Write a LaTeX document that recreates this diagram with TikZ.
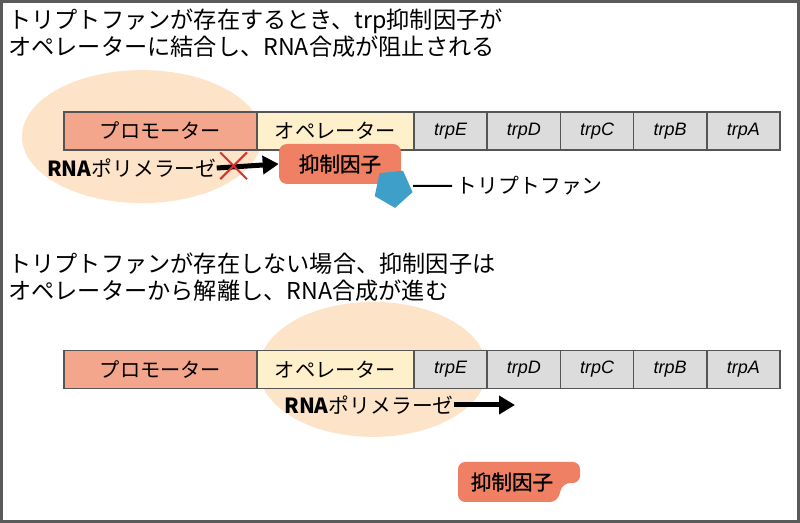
\documentclass[tikz,border=0pt]{standalone}
\usepackage{fontspec}
\setmainfont{Noto Sans CJK JP}
\newfontfamily\genefont{Liberation Sans}
\newfontfamily\repfont[FakeBold=1.2]{Noto Sans CJK JP}
\usetikzlibrary{positioning,shapes.geometric,shapes.misc,arrows.meta}

\definecolor{promocol}{HTML}{F4A68C}
\definecolor{opcol}{HTML}{FFF0CC}
\definecolor{genecol}{HTML}{DCDCDC}
\definecolor{edgecol}{HTML}{555555}
\definecolor{blobcol}{HTML}{FDE3C8}
\definecolor{repcol}{HTML}{F08064}
\definecolor{trpcol}{HTML}{3E9FC8}
\definecolor{stopcol}{HTML}{D8302C}
\definecolor{framecol}{HTML}{5A5A5A}

\tikzset{
  title/.style={align=left, inner sep=0pt, anchor=west, font=\fontsize{16.5pt}{19.2pt}\selectfont},
  seg/.style={draw=edgecol, line width=0.04cm, minimum height=0.95cm, inner sep=0pt, outer sep=0pt,
    font=\fontsize{14.4pt}{16pt}\selectfont},
  promo/.style={seg, fill=promocol, minimum width=4.825cm},
  oper/.style={seg, fill=opcol, minimum width=3.925cm},
  gene/.style={seg, fill=genecol, minimum width=1.83cm, font=\genefont\itshape\fontsize{12.8pt}{14pt}\selectfont},
  blob/.style={ellipse, fill=blobcol, inner sep=0pt},
  label/.style={font=\fontsize{14.8pt}{16pt}\selectfont},
  repbox/.style={fill=repcol, rounded corners=0.2cm, minimum width=3.05cm, minimum height=1cm,
    font=\repfont\fontsize{14.6pt}{16pt}\selectfont},
  rnaarrow/.style={line width=0.125cm, -{Triangle[length=0.4cm,width=0.45cm]}}
}

\begin{document}
\begin{tikzpicture}
  \useasboundingbox (0,0) rectangle (20,13.075);
  \draw[framecol, line width=0.075cm] (0.0375,0.0375) rectangle (19.9625,13.0375);

  % Tryptophan present: repressor sits on the operator
  \node[title] (head1) at (0.2,12.2375) {トリプトファンが存在するとき、trp抑制因子が\\オペレーターに結合し、RNA合成が阻止される};

  \node[blob, minimum width=6cm, minimum height=3.325cm] (pol1) at (3.55,9.66) {};

  \node[promo, anchor=west] (pro1) at (1.6,9.8) {プロモーター};
  \node[oper, right=0pt of pro1] (op1) {オペレーター};
  \node[gene, right=0pt of op1] (trpE1) {trpE};
  \node[gene, right=0pt of trpE1] (trpD1) {trpD};
  \node[gene, right=0pt of trpD1] (trpC1) {trpC};
  \node[gene, right=0pt of trpC1] (trpB1) {trpB};
  \node[gene, right=0pt of trpB1] (trpA1) {trpA};

  \node[repbox] (rep1) at (8.5,8.975) {抑制因子};
  \node[regular polygon, regular polygon sides=5, shape border rotate=186, fill=trpcol,
    minimum size=1cm, inner sep=0pt] (trp1) at (9.825,8.375) {};
  \node[label, anchor=west] (trplab) at (11.3,8.425) {トリプトファン};
  \path (trp1.center) ++(0.5,0.05) coordinate (trpedge);
  \draw[line width=0.05cm] (trpedge) -- (trplab.west);

  \node[label, anchor=west, inner sep=0pt] (rna1) at (1.17,8.875) {\textbf{RNA}ポリメラーゼ};
  \draw[rnaarrow] (rna1.east) -- (rep1.west);
  \node[cross out, draw=stopcol, line width=0.05cm, minimum size=0.62cm, inner sep=0pt] (stop) at (5.84,8.93) {};

  % Tryptophan absent: repressor leaves, polymerase moves on
  \node[title] (head2) at (0.2,6.1375) {トリプトファンが存在しない場合、抑制因子は\\オペレーターから解離し、RNA合成が進む};

  \node[blob, minimum width=5.7cm, minimum height=3.375cm] (pol2) at (9.325,3.84) {};

  \node[promo, anchor=west] (pro2) at (1.6,3.84) {プロモーター};
  \node[oper, right=0pt of pro2] (op2) {オペレーター};
  \node[gene, right=0pt of op2] (trpE2) {trpE};
  \node[gene, right=0pt of trpE2] (trpD2) {trpD};
  \node[gene, right=0pt of trpD2] (trpC2) {trpC};
  \node[gene, right=0pt of trpC2] (trpB2) {trpB};
  \node[gene, right=0pt of trpB2] (trpA2) {trpA};

  \node[label, anchor=west, inner sep=0pt] (rna2) at (7.1,2.95) {\textbf{RNA}ポリメラーゼ};
  \coordinate (go) at (12.875,2.95);
  \draw[rnaarrow] (rna2.east) -- (go);

  % free repressor with the empty tryptophan pocket
  \fill[repcol, rounded corners=0.18cm] (13.925,0.525) -- (11.45,0.525) -- (11.45,1.525)
    -- (14.5,1.525) -- (14.5,1.0) -- (14.075,1.0) -- cycle;
  \node[label, font=\repfont\fontsize{14.6pt}{16pt}\selectfont] (rep2) at (12.8,1.025) {抑制因子};
\end{tikzpicture}
\end{document}
